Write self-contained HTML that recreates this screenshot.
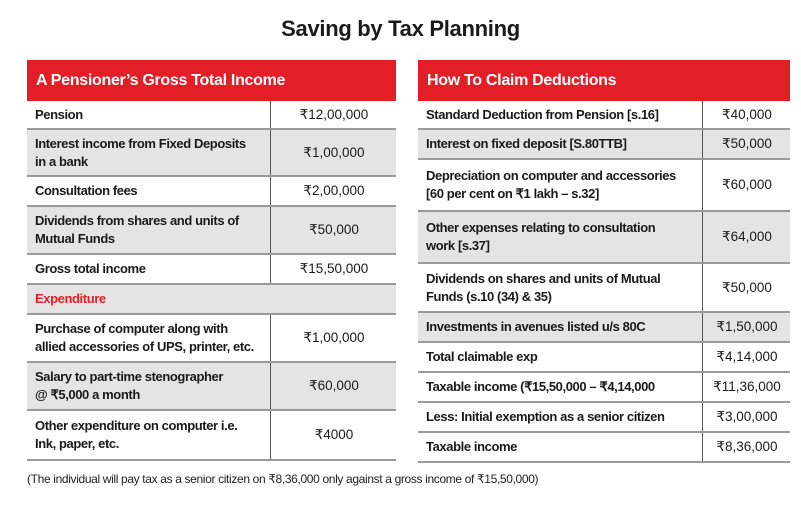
<!DOCTYPE html>
<html><head><meta charset="utf-8">
<style>
body{margin:0;width:801px;height:508px;background:#fff;position:relative;overflow:hidden;font-family:"Liberation Sans",sans-serif;color:#1a1a1a}
.title{position:absolute;left:0;width:801px;top:16px;text-align:center;font-weight:bold;font-size:22px;letter-spacing:-0.3px}
.hdr{position:absolute;height:41px;background:#e31e26;color:#fff;font-weight:bold;font-size:16px;line-height:41px;padding-left:9px;box-sizing:border-box;letter-spacing:-0.3px}
.row{position:absolute;box-sizing:border-box;border-bottom:2px solid #9a9a9a}
.row.g{background:#e4e4e4}
.lab{position:absolute;left:8px;top:0;bottom:0;display:flex;align-items:center;font-weight:bold;font-size:13px;letter-spacing:-0.4px;line-height:18px}
.val{position:absolute;top:0;bottom:0;display:flex;align-items:center;justify-content:center;font-size:13.5px;border-left:1.5px solid #555}
.note{position:absolute;left:27px;top:472px;font-size:12px;letter-spacing:-0.35px;color:#222}
</style></head><body>
<div class="title">Saving by Tax Planning</div>
<div class="hdr" style="left:27px;top:60px;width:369px">A Pensioner’s Gross Total Income</div>
<div class="hdr" style="left:418px;top:60px;width:372px">How To Claim Deductions</div>
<div id="L"></div><div id="R"></div>
<div class="note">(The individual will pay tax as a senior citizen on ₹8,36,000 only against a gross income of ₹15,50,000)</div>
<script>
const leftLabels=["Pension","Interest income from Fixed Deposits<br>in a bank","Consultation fees","Dividends from shares and units of<br>Mutual Funds","Gross total income","Expenditure","Purchase of computer along with<br>allied accessories of UPS, printer, etc.","Salary to part-time stenographer<br>@ ₹5,000 a month","Other expenditure on computer i.e.<br>Ink, paper, etc."];
const leftValues=["₹12,00,000","₹1,00,000","₹2,00,000","₹50,000","₹15,50,000","","₹1,00,000","₹60,000","₹4000"];
const leftBounds=[101,130,177,207,255,285,315,363,411,461];
const leftGray=[0,1,0,1,0,1,0,1,0];
const rightLabels=["Standard Deduction from Pension [s.16]","Interest on fixed deposit [S.80TTB]","Depreciation on computer and accessories<br>[60 per cent on ₹1 lakh – s.32]","Other expenses relating to consultation<br>work [s.37]","Dividends on shares and units of Mutual<br>Funds (s.10 (34) &amp; 35)","Investments in avenues listed u/s 80C","Total claimable exp","Taxable income (₹15,50,000 – ₹4,14,000","Less: Initial exemption as a senior citizen","Taxable income"];
const rightValues=["₹40,000","₹50,000","₹60,000","₹64,000","₹50,000","₹1,50,000","₹4,14,000","₹11,36,000","₹3,00,000","₹8,36,000"];
const rightBounds=[101,130,160,212,264,313,343,373,403,433,463];
const rightGray=[0,1,0,1,0,1,0,0,0,0];
function build(id,x,w,div,labels,values,bounds,gray){
  const c=document.getElementById(id);
  labels.forEach((l,i)=>{
    const r=document.createElement('div');
    
    
    r.className='row'+(gray[i]?' g':'');
    r.style.cssText=`left:${x}px;width:${w}px;top:${bounds[i]}px;height:${bounds[i+1]-bounds[i]}px`;
    const a=document.createElement('div');
    
    
    a.className='lab';a.innerHTML=l;
    if(l==='Expenditure'){a.style.color='#e31e26';}
    r.appendChild(a);
    if(l!=='Expenditure'){
      const v=document.createElement('div');
      
      
      v.className='val';v.style.left=div+'px';v.style.width=(w-div)+'px';v.textContent=values[i];
      r.appendChild(v);
    }
    c.appendChild(r);
  });
}
build('L',27,369,243,leftLabels,leftValues,leftBounds,leftGray);
build('R',418,372,284,rightLabels,rightValues,rightBounds,rightGray);
</script>
</body></html>
